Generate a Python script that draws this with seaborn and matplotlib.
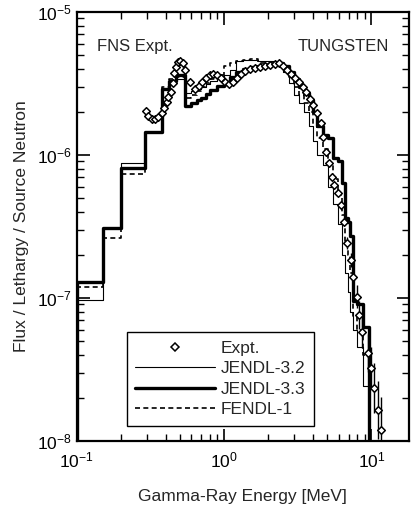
import numpy as np
import pandas as pd
import seaborn as sns
import matplotlib.pyplot as plt
from matplotlib.lines import Line2D
from matplotlib.ticker import LogLocator, NullFormatter

sns.set_theme(style="ticks")
plt.rcParams['font.family'] = ['Liberation Sans', 'DejaVu Sans']
plt.rcParams['mathtext.default'] = 'regular'

# group boundaries [MeV] shared by the three calculations
edges = [0.1, 0.15, 0.2, 0.29, 0.38, 0.42, 0.47, 0.54, 0.6, 0.65, 0.7, 0.75, 0.8,
         0.9, 1.0, 1.1, 1.2, 1.35, 1.5, 1.7, 2.0, 2.25, 2.5, 2.75, 3.0, 3.25,
         3.5, 3.75, 4.0, 4.3, 4.7, 5.1, 5.5, 5.9, 6.3, 6.6, 6.9, 7.2, 7.5, 8.0,
         8.8, 9.7]

jendl33 = [1.3e-7, 3.1e-7, 8.1e-7, 1.45e-6, 2.9e-6, 3.3e-6, 3.6e-6, 2.2e-6,
           2.3e-6, 2.4e-6, 2.5e-6, 2.65e-6, 2.85e-6, 3.05e-6, 3.2e-6, 3.5e-6,
           3.8e-6, 4.0e-6, 4.1e-6, 4.2e-6, 4.3e-6, 4.4e-6, 4.2e-6, 3.8e-6,
           3.4e-6, 3.0e-6, 2.7e-6, 2.4e-6, 2.0e-6, 1.6e-6, 1.38e-6, 1.3e-6,
           9.5e-7, 9.0e-7, 6.4e-7, 3.6e-7, 3.4e-7, 2.7e-7, 9.5e-8, 9.0e-8, 6.3e-8]

jendl32 = [9.6e-8, 3.1e-7, 8.7e-7, 1.45e-6, 2.9e-6, 3.3e-6, 3.4e-6, 2.7e-6,
           2.8e-6, 2.9e-6, 3.0e-6, 3.15e-6, 3.3e-6, 3.4e-6, 3.6e-6, 3.9e-6,
           4.5e-6, 4.6e-6, 4.6e-6, 4.5e-6, 4.5e-6, 4.3e-6, 3.8e-6, 3.2e-6,
           2.6e-6, 2.3e-6, 2.0e-6, 1.6e-6, 1.25e-6, 1.0e-6, 8.5e-7, 6.0e-7,
           4.5e-7, 3.3e-7, 2.0e-7, 1.5e-7, 1.1e-7, 8.0e-8, 6.0e-8, 4.5e-8, 2.4e-8]

fendl1 = [1.19e-7, 2.6e-7, 7.3e-7, 1.45e-6, 3.0e-6, 3.4e-6, 3.5e-6, 2.5e-6,
          2.6e-6, 2.8e-6, 3.0e-6, 3.2e-6, 3.4e-6, 3.6e-6, 4.2e-6, 4.4e-6,
          4.5e-6, 4.6e-6, 4.7e-6, 4.4e-6, 4.4e-6, 4.3e-6, 4.0e-6, 3.5e-6,
          3.0e-6, 2.6e-6, 2.3e-6, 2.0e-6, 1.65e-6, 1.3e-6, 1.1e-6, 8.5e-7,
          6.8e-7, 5.2e-7, 3.8e-7, 2.5e-7, 2.0e-7, 1.5e-7, 7.5e-8, 6.0e-8, 4.0e-8]

# measured spectrum
expt_e = [0.295, 0.304, 0.324, 0.339, 0.356, 0.379, 0.391, 0.410, 0.416, 0.436,
          0.450, 0.457, 0.472, 0.486, 0.502, 0.526, 0.543, 0.587, 0.635, 0.676,
          0.708, 0.754, 0.803, 0.842, 0.896, 0.954, 1.016, 1.082, 1.151, 1.226,
          1.305, 1.390, 1.503, 1.625, 1.758, 1.900, 2.055, 2.223, 2.367, 2.520,
          2.683, 2.856, 3.041, 3.237, 3.446, 3.612, 3.846, 4.031, 4.293, 4.570,
          4.716, 4.942, 5.180, 5.429, 5.601, 5.963, 6.250, 6.551, 6.866, 7.310,
          7.545, 8.032, 8.288, 8.686, 9.541, 10.0, 10.48, 11.16, 11.70]
expt_f = [2.03e-6, 1.87e-6, 1.79e-6, 1.79e-6, 1.84e-6, 1.97e-6, 2.13e-6, 2.35e-6,
          2.54e-6, 2.76e-6, 3.19e-6, 3.75e-6, 4.12e-6, 4.47e-6, 4.54e-6, 4.40e-6,
          3.93e-6, 3.24e-6, 2.89e-6, 3.04e-6, 3.24e-6, 3.45e-6, 3.63e-6, 3.68e-6,
          3.63e-6, 3.45e-6, 3.24e-6, 3.14e-6, 3.24e-6, 3.45e-6, 3.68e-6, 3.87e-6,
          3.99e-6, 4.06e-6, 4.12e-6, 4.19e-6, 4.26e-6, 4.33e-6, 4.40e-6, 4.19e-6,
          3.93e-6, 3.68e-6, 3.45e-6, 3.24e-6, 2.99e-6, 2.76e-6, 2.46e-6, 2.24e-6,
          1.97e-6, 1.67e-6, 1.34e-6, 1.05e-6, 8.80e-7, 7.02e-7, 6.17e-7, 5.42e-7,
          4.47e-7, 3.40e-7, 2.42e-7, 1.84e-7, 1.40e-7, 1.02e-7, 7.61e-8, 5.78e-8,
          4.12e-8, 3.24e-8, 2.35e-8, 1.65e-8, 1.19e-8]
# multiplicative error factor of the high-energy points
expt_err = [1.0] * 58 + [1.1, 1.12, 1.15, 1.2, 1.25, 1.3, 1.35, 1.4, 1.5, 1.6, 1.7]


def steps(vals):
    floor = 1e-10
    return pd.DataFrame({"E": [edges[0]] + edges,
                         "F": [floor] + vals + [floor]})


fig = plt.figure(figsize=(4.11, 5.12), dpi=100)
ax = fig.add_axes([0.187, 0.139, 0.808, 0.838])
ax.set(xscale="log", yscale="log")

sns.lineplot(data=steps(jendl32), x="E", y="F", sort=False, estimator=None,
             drawstyle="steps-post", color="black", lw=0.8, ax=ax)
sns.lineplot(data=steps(fendl1), x="E", y="F", sort=False, estimator=None,
             drawstyle="steps-post", color="black", lw=1.2, ls=(0, (3, 2)), ax=ax)
sns.lineplot(data=steps(jendl33), x="E", y="F", sort=False, estimator=None,
             drawstyle="steps-post", color="black", lw=2.4, ax=ax)

ef = np.array(expt_f)
fac = np.array(expt_err)
ax.errorbar(expt_e, expt_f, yerr=[ef - ef / fac, ef * fac - ef], fmt="none",
            ecolor="black", elinewidth=1.0, capsize=0, zorder=4)
sns.scatterplot(x=expt_e, y=expt_f, marker="D", s=15, facecolor="white",
                edgecolor="black", linewidth=1.1, zorder=5, ax=ax)

ax.set_xlim(0.1, 18)
ax.set_ylim(1e-8, 1e-5)
ax.xaxis.set_major_locator(LogLocator(base=10, numticks=10))
ax.xaxis.set_minor_locator(LogLocator(base=10, subs=np.arange(2, 10), numticks=10))
ax.xaxis.set_minor_formatter(NullFormatter())
ax.yaxis.set_minor_formatter(NullFormatter())
ax.tick_params(which="both", direction="in", top=True, right=True,
               labelsize=12.5, colors="black")
ax.tick_params(axis="x", which="major", pad=7)
ax.tick_params(which="major", length=9, width=1.2)
ax.tick_params(which="minor", length=5, width=1.0)
for s in ax.spines.values():
    s.set_linewidth(1.6)
    s.set_color("black")

ax.set_xlabel("Gamma-Ray Energy [MeV]", fontsize=12.5, labelpad=13)
ax.set_ylabel("Flux / Lethargy / Source Neutron", fontsize=12.5, labelpad=6)

ax.text(0.06, 0.92, "FNS Expt.", transform=ax.transAxes, fontsize=12, va="center")
ax.text(0.94, 0.92, "TUNGSTEN", transform=ax.transAxes, fontsize=12,
        va="center", ha="right")

handles = [
    Line2D([], [], ls="none", marker="D", ms=4.5, mfc="white", mec="black", mew=1.1),
    Line2D([], [], color="black", lw=0.8),
    Line2D([], [], color="black", lw=2.4),
    Line2D([], [], color="black", lw=1.2, ls=(0, (3, 2))),
]
leg = ax.legend(handles, ["Expt.", "JENDL-3.2", "JENDL-3.3", "FENDL-1"],
                loc="lower left", bbox_to_anchor=(0.15, 0.035), fontsize=12.5,
                handlelength=4.6, handletextpad=0.3, labelspacing=0.3,
                borderpad=0.5, borderaxespad=0, fancybox=False, framealpha=1)
leg.get_frame().set_edgecolor("black")
leg.get_frame().set_linewidth(1.0)

fig.savefig("out.png", dpi=100)
